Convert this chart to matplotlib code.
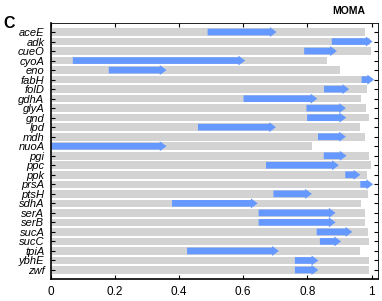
import matplotlib
matplotlib.use("Agg")
import matplotlib.pyplot as plt
import numpy as np

plt.rcParams['font.family'] = ['Liberation Sans', 'DejaVu Sans']

genes = ["aceE", "adk", "cueO", "cyoA", "eno", "fabH", "folD", "gdhA", "glyA",
         "gnd", "lpd", "mdh", "nuoA", "pgi", "ppc", "ppk", "prsA", "ptsH",
         "sdhA", "serA", "serB", "sucA", "sucC", "tpiA", "ybhE", "zwf"]
# grey bar length
gray_end = [0.979, 0.995, 0.998, 0.860, 0.902, 0.990, 0.987, 0.966, 0.984,
            0.991, 0.964, 0.979, 0.815, 0.993, 0.997, 0.986, 0.990, 0.988,
            0.967, 0.978, 0.978, 0.990, 0.992, 0.963, 0.991, 0.991]
# blue arrow start / end
arrow_start = [0.489, 0.876, 0.790, 0.069, 0.181, 0.969, 0.852, 0.601, 0.797,
               0.799, 0.459, 0.833, 0.000, 0.851, 0.671, 0.918, 0.965, 0.694,
               0.378, 0.648, 0.648, 0.829, 0.839, 0.425, 0.761, 0.761]
arrow_end = [0.704, 1.003, 0.892, 0.606, 0.361, 1.008, 0.930, 0.831, 0.920,
             0.921, 0.702, 0.920, 0.361, 0.922, 0.898, 0.965, 1.005, 0.814,
             0.645, 0.888, 0.888, 0.940, 0.905, 0.711, 0.834, 0.834]
xticks = [0, 0.2, 0.4, 0.6, 0.8, 1]
xticklabels = ["0", "0.2", "0.4", "0.6", "0.8", "1"]

fig = plt.figure(figsize=(3.82, 3.01), dpi=100)
ax = fig.add_axes([0.1327, 0.0721, 0.8568, 0.8525])

y = np.arange(len(genes))
ax.barh(y, gray_end, height=0.8, color="#d3d3d3", zorder=1)
for yi, s, e in zip(y, arrow_start, arrow_end):
    ax.arrow(s, yi, e - s, 0, width=0.7, head_width=1.05, head_length=0.021,
             length_includes_head=True, color="#6699ff", lw=0, zorder=2)

ax.set_xlim(0, 1.02)
ax.set_ylim(len(genes) - 1 + 0.98, -0.98)
ax.set_yticks(y)
ax.set_yticklabels(genes, fontstyle="italic", fontsize=8)
ax.set_xticks(xticks)
ax.set_xticklabels(xticklabels, fontsize=8.5)
ax.tick_params(direction="in", length=3, width=0.8, top=True, right=True)
ax.tick_params(axis="y", pad=4.5)
ax.tick_params(axis="x", pad=5)
for sp in ["left", "bottom"]:
    ax.spines[sp].set_linewidth(1.2)
for sp in ["top", "right"]:
    ax.spines[sp].set_linewidth(0.6)

fig.text(0.008, 0.923, "C", fontsize=11.5, fontweight="bold", va="center")
fig.text(0.956, 0.962, "MOMA", fontsize=7.5, fontweight="bold", va="center", ha="right")

fig.savefig("out.png", dpi=100)
